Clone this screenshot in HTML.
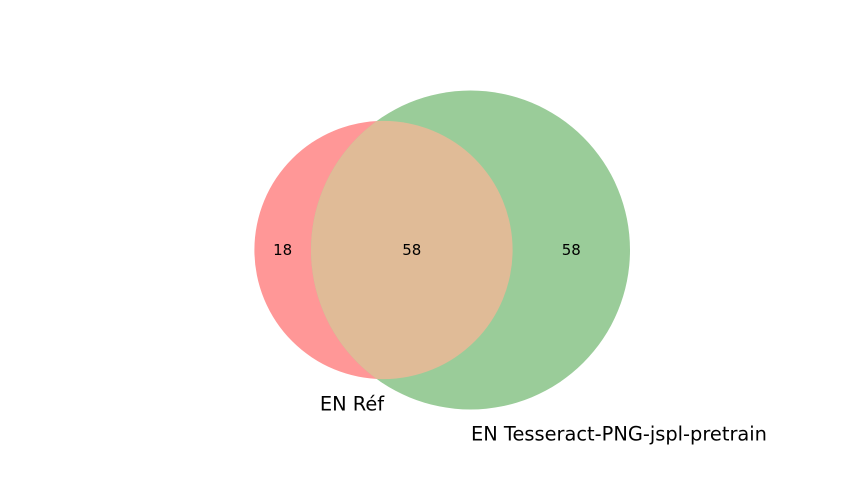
<!DOCTYPE html>
<html>
<head>
<meta charset="utf-8">
<style>
  html, body { margin: 0; padding: 0; background: #fff; }
  svg { display: block; }
  text { font-family: "DejaVu Sans", "Liberation Sans", sans-serif; }
</style>
</head>
<body>
<svg id="chart" width="864" height="504" viewBox="0 0 864 504" xmlns="http://www.w3.org/2000/svg">
  <defs>
    <clipPath id="clipA"><circle id="clipCircle" cx="0" cy="0" r="0"/></clipPath>
  </defs>
  <g id="circles"></g>
  <g id="labels"></g>
</svg>
<script>
const setNames = ["EN Réf", "EN Tesseract-PNG-jspl-pretrain"];
const regionLabels = ["18", "58", "58"];
const regionCounts = [18, 58, 58];

const svg = document.getElementById('chart');
const gC = document.getElementById('circles');
const gL = document.getElementById('labels');
const NS = 'http://www.w3.org/2000/svg';

const aTotal = regionCounts[0] + regionCounts[1];
const bTotal = regionCounts[1] + regionCounts[2];
const rB = 159.5;
const rA = rB * Math.sqrt(aTotal / bTotal);
const cy = 250;
const cxA = 383.5, cxB = 470.5;

const clip = document.getElementById('clipCircle');
clip.setAttribute('cx', cxA); clip.setAttribute('cy', cy); clip.setAttribute('r', rA);

function circle(cx, r, fill, name, clipId) {
  const c = document.createElementNS(NS, 'circle');
  c.setAttribute('cx', cx); c.setAttribute('cy', cy); c.setAttribute('r', r);
  c.setAttribute('fill', fill);
  if (clipId) c.setAttribute('clip-path', 'url(#' + clipId + ')');
  
  
  gC.appendChild(c);
}
circle(cxA, rA, '#ff9797', 'set-a-circle');
circle(cxB, rB, '#9acc99', 'set-b-circle');
circle(cxB, rB, '#e0bb97', 'intersection-region', 'clipA');

function txt(x, y, s, size, anchor, name) {
  const t = document.createElementNS(NS, 'text');
  t.setAttribute('x', x); t.setAttribute('y', y);
  t.setAttribute('font-size', size);
  t.setAttribute('text-anchor', anchor);
  t.setAttribute('dominant-baseline', 'central');
  t.setAttribute('fill', '#000');
  t.textContent = s;
  
  
  gL.appendChild(t);
}
const leftOnlyX = (cxA - rA + (cxB - rB)) / 2;
const bothX = ((cxB - rB) + (cxA + rA)) / 2;
const rightOnlyX = ((cxA + rA) + (cxB + rB)) / 2;
txt(leftOnlyX, cy, regionLabels[0], 15, 'middle', 'region-a-only-count');
txt(bothX, cy, regionLabels[1], 15, 'middle', 'region-intersection-count');
txt(rightOnlyX, cy, regionLabels[2], 15, 'middle', 'region-b-only-count');
txt(352, 404, setNames[0], 19.4, 'middle', 'set-a-label');
txt(471, 434, setNames[1], 19.4, 'start', 'set-b-label');
</script>
</body>
</html>
